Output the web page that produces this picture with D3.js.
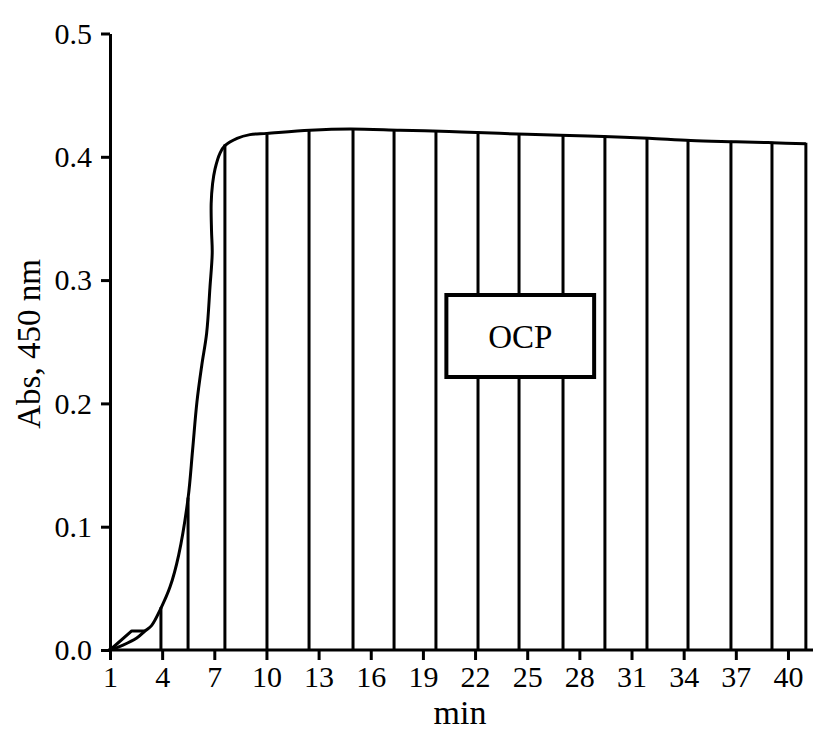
<!DOCTYPE html>
<meta charset="utf-8">
<style>
  body { margin: 0; background: #fff; }
  text { font-family: "Liberation Serif", "Times New Roman", serif; fill: #000; }
  .axis path, .axis line { stroke: #000; stroke-width: 3px; }
  .axis text { font-size: 30px; font-family: "Liberation Serif", serif; }
</style>
<body>
<svg></svg>
<script src="https://cdn.jsdelivr.net/npm/d3@7"></script>
<script>
  // elution curve (min, absorbance at 450 nm)
  var curveX = [1, 1.75, 2.54, 3.01, 3.4, 3.9, 4.45, 4.95, 5.49, 5.75, 6.0, 6.28, 6.56, 6.75, 6.88,
                6.84, 6.82, 6.9, 7.04, 7.33, 7.61, 8.31, 9.05, 10.03, 12.5, 14.8, 17.7, 20.5, 23.4,
                26.9, 29.4, 32, 34.4, 37, 39.1, 41.03];
  var curveY = [0, 0.004, 0.0097, 0.0154, 0.020, 0.033, 0.051, 0.077, 0.123, 0.162, 0.201, 0.231, 0.257,
                0.294, 0.322, 0.340, 0.362, 0.378, 0.390, 0.403, 0.409, 0.415, 0.418, 0.419,
                0.4215, 0.4225, 0.4215, 0.4205, 0.419, 0.4175, 0.4165, 0.415, 0.4132, 0.4122, 0.4114, 0.4105];
  // small baseline artefact at the start
  var kinkX = [1, 2.25, 3.0];
  var kinkY = [0, 0.0155, 0.0155];
  // fraction boundaries (min)
  var fractions = [3.93, 5.49, 7.61, 10.03, 12.45, 14.98, 17.34, 19.75, 22.17, 24.53, 27.06,
                   29.47, 31.89, 34.25, 36.72, 39.08, 41.03];
  var xTicks = [1, 4, 7, 10, 13, 16, 19, 22, 25, 28, 31, 34, 37, 40];
  var yTicks = [0, 0.1, 0.2, 0.3, 0.4, 0.5];

  var W = 826, H = 744;
  var svg = d3.select('svg').attr('width', W).attr('height', H);

  var x = d3.scaleLinear().domain([1, 41.44]).range([110, 813]);
  var y = d3.scaleLinear().domain([0, 0.5]).range([650, 33.5]);

  var line = d3.line()
      .x(function(d) { return x(d[0]); })
      .y(function(d) { return y(d[1]); })
      .curve(d3.curveCatmullRom.alpha(0.5));

  var pts = curveX.map(function(v, i) { return [v, curveY[i]]; });
  var path = svg.append('path')
      .datum(pts)
      .attr('d', line)
      .attr('fill', 'none')
      .attr('stroke', '#000')
      .attr('stroke-width', 3);

  svg.append('path')
      .datum(kinkX.map(function(v, i) { return [v, kinkY[i]]; }))
      .attr('d', d3.line().x(function(d) { return x(d[0]); }).y(function(d) { return y(d[1]); }))
      .attr('fill', 'none')
      .attr('stroke', '#000')
      .attr('stroke-width', 3)
      .attr('stroke-linejoin', 'round');

  // sample the drawn curve so fraction lines end on it
  var node = path.node(), len = node.getTotalLength(), samples = [];
  for (var s = 0; s <= len; s += 0.5) samples.push(node.getPointAtLength(s));
  function topAt(px) {
    var best = samples[0];
    for (var i = 1; i < samples.length; i++) {
      if (Math.abs(samples[i].x - px) < Math.abs(best.x - px)) best = samples[i];
    }
    return best.y;
  }

  svg.append('g').selectAll('line')
      .data(fractions)
      .enter().append('line')
      .attr('x1', function(d) { return x(d); })
      .attr('x2', function(d) { return x(d); })
      .attr('y1', y(0))
      .attr('y2', function(d) { return topAt(x(d)) - 1; })
      .attr('stroke', '#000')
      .attr('stroke-width', 3);

  svg.append('g')
      .attr('class', 'x axis')
      .attr('transform', 'translate(0,' + y(0) + ')')
      .call(d3.axisBottom(x).tickValues(xTicks).tickSize(10).tickSizeOuter(0).tickPadding(6));

  svg.append('g')
      .attr('class', 'y axis')
      .attr('transform', 'translate(' + x(1) + ',0)')
      .call(d3.axisLeft(y).tickValues(yTicks).tickFormat(d3.format('.1f')).tickSize(9).tickSizeOuter(0).tickPadding(9));

  svg.selectAll('.x.axis path').attr('d', 'M' + (x(1) - 2) + ',0H' + x(41.44));

  svg.append('text')
      .text('min')
      .attr('x', 460)
      .attr('y', 724)
      .attr('text-anchor', 'middle')
      .style('font-size', '34px');

  svg.append('text')
      .text('Abs, 450 nm')
      .attr('transform', 'translate(40,' + 344 + ')rotate(-90)')
      .attr('text-anchor', 'middle')
      .style('font-size', '33px');

  // label box
  var bx = x(20.35), bw = x(28.85) - x(20.35);
  svg.append('rect')
      .attr('x', bx).attr('y', 295)
      .attr('width', bw).attr('height', 82)
      .attr('fill', '#fff')
      .attr('stroke', '#000')
      .attr('stroke-width', 4);
  svg.append('text')
      .text('OCP')
      .attr('x', bx + bw / 2)
      .attr('y', 348)
      .attr('text-anchor', 'middle')
      .style('font-size', '33px');
</script>
